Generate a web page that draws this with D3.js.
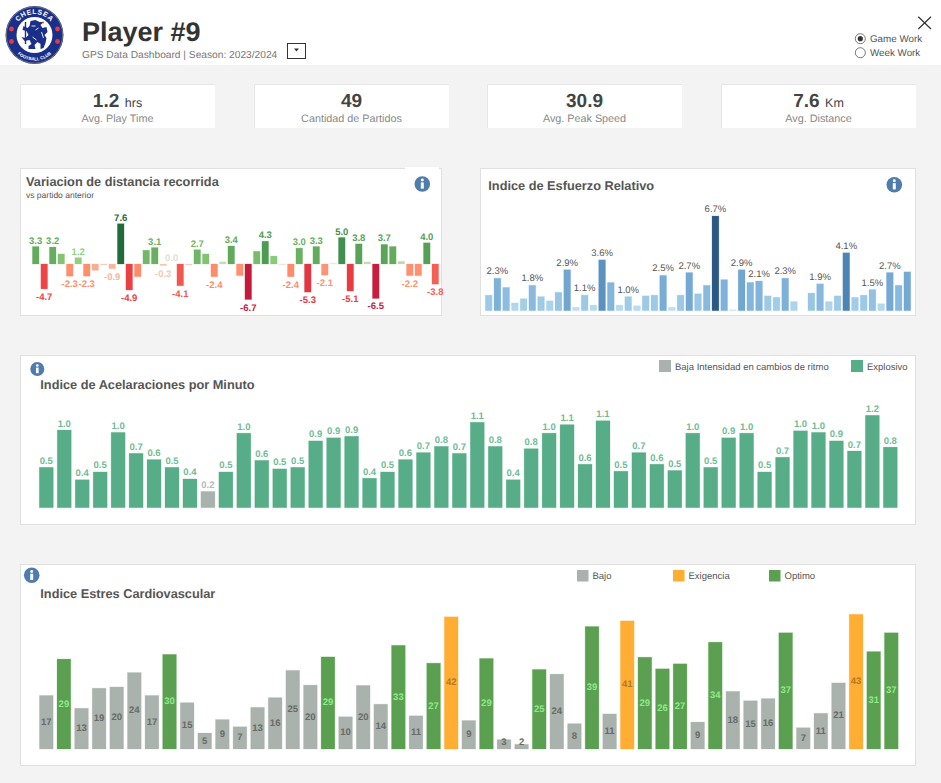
<!DOCTYPE html>
<html>
<head>
<meta charset="utf-8">
<title>Player #9</title>
<script src="https://cdn.jsdelivr.net/npm/d3@7"></script>
<style>
html, body { margin: 0; padding: 0; background: #fff; overflow: hidden; }
text { font-family: "Liberation Sans", Arial, sans-serif; text-rendering: geometricPrecision; }
</style>
</head>
<body>
<div id="chart-area"></div>
<script>
// Tarjetas KPI
const kpiValues = ["1.2", "49", "30.9", "7.6"]
const kpiUnits = ["hrs", "", "", "Km"]
const kpiLabels = ["Avg. Play Time", "Cantidad de Partidos", "Avg. Peak Speed", "Avg. Distance"]

// Variacion de distancia recorrida
const variacion = [3.3, -4.7, 3.2, 1.9, -2.3, 1.2, -2.3, -1.2, -0.2, -0.9, 7.6, -4.9, -2.4, 2.6, 3.1, -0.3,
	0.0, -4.1, -0.2, 2.7, 1.9, -2.4, 0.4, 3.4, -2.2, -6.7, 2.4, 4.3, 1.5, -0.1, -2.4, 3.0,
	-5.3, 3.3, -2.1, 0.1, 5.0, -5.1, 3.8, 0.4, -6.5, 3.7, 3.3, 0.5, -2.2, -2.2, 4.0, -3.8]
const variacionConEtiqueta = [0, 1, 2, 4, 5, 6, 9, 10, 11, 14, 15, 16, 17, 19, 21, 23, 25, 27, 30, 31, 32, 33, 34, 36, 37, 38, 40, 41, 44, 46, 47]

// Indice de esfuerzo relativo (null = partido sin dato)
const esfuerzo = [1.1, 2.3, 1.65, 0.55, 0.85, 1.8, 1.0, 0.7, 1.3, 2.9, 0.25, 1.1, 0.4, 3.6, 2.0, 0.4, 1.0,
	0.35, 1.05, 1.1, 2.5, 0.25, 1.1, 2.7, 1.2, 1.8, 6.7, 2.2, 0.07, 2.9, 2.0, 2.1, 1.05, 0.95, 2.3, 0.65,
	null, 1.25, 1.9, 0.65, 1.05, 4.1, 0.95, 1.1, 1.5, 0.5, 2.7, 1.8, 2.75]
const esfuerzoConEtiqueta = [1, 5, 9, 11, 13, 16, 20, 23, 26, 29, 31, 34, 38, 41, 44, 46]

// Indice de aceleraciones por minuto
const aceleraciones = [0.52, 1.0, 0.36, 0.46, 0.97, 0.70, 0.62, 0.52, 0.37, 0.21, 0.46, 0.96, 0.61, 0.50, 0.52, 0.86,
	0.90, 0.92, 0.38, 0.46, 0.62, 0.71, 0.79, 0.70, 1.10, 0.79, 0.36, 0.76, 0.96, 1.07, 0.56, 1.12,
	0.47, 0.71, 0.56, 0.48, 0.96, 0.52, 0.90, 0.96, 0.46, 0.65, 0.99, 0.97, 0.86, 0.73, 1.19, 0.78]
const aceleracionesLegend = ["Baja Intensidad en cambios de ritmo", "Explosivo"]

// Indice estres cardiovascular
const estres = [17.1, 28.7, 13.0, 19.4, 19.8, 24.4, 17.1, 30.2, 14.8, 5.1, 9.4, 7.1, 13.3, 16.4, 25.1, 20.4, 29.4,
	10.3, 20.3, 14.3, 33.1, 10.6, 27.4, 42.2, 9.1, 28.9, 3.0, 1.5, 25.4, 23.9, 8.1, 39.1, 11.2, 40.9,
	29.3, 25.6, 27.2, 8.6, 34.1, 18.4, 15.4, 16.1, 37.1, 6.8, 11.4, 21.1, 43.0, 31.1, 37.1]
const estresCategoria = ["Bajo", "Optimo", "Bajo", "Bajo", "Bajo", "Bajo", "Bajo", "Optimo", "Bajo", "Bajo", "Bajo", "Bajo",
	"Bajo", "Bajo", "Bajo", "Bajo", "Optimo", "Bajo", "Bajo", "Bajo", "Optimo", "Bajo", "Optimo", "Exigencia", "Bajo",
	"Optimo", "Bajo", "Bajo", "Optimo", "Bajo", "Bajo", "Optimo", "Bajo", "Exigencia", "Optimo", "Optimo", "Optimo",
	"Bajo", "Optimo", "Bajo", "Bajo", "Bajo", "Optimo", "Bajo", "Bajo", "Bajo", "Exigencia", "Optimo", "Optimo"]
const estresLegend = ["Bajo", "Exigencia", "Optimo"]

const GRAY = "#a9b2ac"
const TEAL = "#57ad87"
const TEXT = "#555"

const svg = d3.select("#chart-area").append("svg")
	.attr("width", 941)
	.attr("height", 783)
	.style("display", "block")

// Fondo
svg.append("rect").attr("x", 0).attr("y", 65).attr("width", 941).attr("height", 718).attr("fill", "#f3f3f3")

// Encabezado
drawLogo(svg.append("g").attr("transform", "translate(34.5, 35)"))

svg.append("text")
	.attr("x", 82).attr("y", 41)
	.attr("font-size", 27).attr("font-weight", "bold").attr("fill", "#333")
	.text("Player #9")
svg.append("text")
	.attr("x", 82).attr("y", 57.5)
	.attr("font-size", 10.2).attr("fill", "#777")
	.text("GPS Data Dashboard | Season: 2023/2024")

// Desplegable
svg.append("rect").attr("x", 287.5).attr("y", 43.5).attr("width", 18).attr("height", 15)
	.attr("fill", "#fff").attr("stroke", "#333")
svg.append("path").attr("d", "M294 48.5h5l-2.5 3z").attr("fill", "#333")

// Cerrar
svg.append("path").attr("d", "M918.3 16.7L931 29M931 16.7L918.3 29")
	.attr("stroke", "#333").attr("stroke-width", 1.2).attr("fill", "none")

// Radios
const radios = [["Game Work", 38.7, true], ["Week Work", 52.7, false]]
radios.forEach(r => {
	svg.append("circle").attr("cx", 860.3).attr("cy", r[1]).attr("r", 5)
		.attr("fill", "#fff").attr("stroke", "#555").attr("stroke-width", 0.8)
	if (r[2]) svg.append("circle").attr("cx", 860.3).attr("cy", r[1]).attr("r", 2.6).attr("fill", "#333")
	svg.append("text").attr("x", 870).attr("y", r[1] + 3.4)
		.attr("font-size", 9.8).attr("fill", TEXT).text(r[0])
})

// KPI
const kpiX = [20, 254, 487, 721]
kpiValues.forEach((v, i) => {
	const g = svg.append("g").attr("transform", `translate(${kpiX[i]}, 84)`)
	g.append("rect").attr("width", 195).attr("height", 44).attr("fill", "#fff")
	g.append("path").attr("d", "M0.5 44V0.5H195").attr("fill", "none").attr("stroke", "#e6e6e6")
	const t = g.append("text").attr("x", 97.5).attr("y", 23).attr("text-anchor", "middle").attr("fill", "#444")
	t.append("tspan").attr("font-size", 19).attr("font-weight", "bold").text(v)
	if (kpiUnits[i]) t.append("tspan").attr("font-size", 12.5).attr("dx", 5.5).text(kpiUnits[i])
	g.append("text").attr("x", 97.5).attr("y", 37.5).attr("text-anchor", "middle")
		.attr("font-size", 10.8).attr("fill", "#888").text(kpiLabels[i])
})

// Paneles
function panel(x, y, w, h) {
	svg.append("rect").attr("x", x + 0.5).attr("y", y + 0.5).attr("width", w).attr("height", h)
		.attr("fill", "#fff").attr("stroke", "#e0e0e0")
}
function title(x, y, txt) {
	svg.append("text").attr("x", x).attr("y", y)
		.attr("font-size", 12.75).attr("font-weight", "bold").attr("fill", TEXT).text(txt)
}
function info(cx, cy, r) {
	const g = svg.append("g").attr("transform", `translate(${cx}, ${cy})`)
	g.append("circle").attr("r", r).attr("fill", "#4f7cac")
	g.append("circle").attr("cy", -r * 0.5).attr("r", r * 0.19).attr("fill", "#fff")
	g.append("rect").attr("x", -r * 0.19).attr("y", -r * 0.2).attr("width", r * 0.38).attr("height", r * 0.8).attr("fill", "#fff")
}
// Escala de posicion: una banda por partido, centrada entre el primer y el ultimo centro
function xBand(n, first, last) {
	const step = (last - first) / (n - 1)
	return d3.scaleBand()
		.domain(d3.range(n))
		.range([first - step / 2, last + step / 2])
		.paddingInner(0.22)
		.paddingOuter(0.11)
}
function barStyle(sel, color) {
	sel.attr("fill", color)
		.attr("stroke", color)
		.attr("stroke-opacity", 0.25)
		.attr("stroke-width", 1)
}
const hyphen = s => s.replace("\u2212", "-")

// Variacion de distancia recorrida
panel(20, 168, 421, 147)
svg.append("rect").attr("x", 405).attr("y", 167).attr("width", 34).attr("height", 3).attr("fill", "#fff")
title(26, 186, "Variacion de distancia recorrida")
svg.append("text").attr("x", 26).attr("y", 197.5).attr("font-size", 8.5).attr("fill", TEXT).text("vs partido anterior")
info(422.3, 184, 7.8)

const x1 = xBand(variacion.length, 35.7, 435.3)
const y1 = d3.scaleLinear().domain([-7, 8]).range([301.1, 221.6])
const color1 = d3.scaleLinear()
	.domain([-6.7, -4.7, -2.3, -0.3, 0, 1.2, 3.3, 5, 7.6])
	.range(["#c41a3c", "#ee4444", "#ff8e6c", "#f4c9b4", "#dfe0d5", "#93cf7f", "#63ac5c", "#3f8f4f", "#246b3c"])

barStyle(svg.append("g").selectAll("rect").data(variacion).enter().append("rect")
	.attr("x", (d, i) => x1(i))
	.attr("y", d => y1(Math.max(d, 0)))
	.attr("width", x1.bandwidth())
	.attr("height", d => Math.abs(y1(d) - y1(0))), d => color1(d))

svg.append("g").selectAll("text").data(variacionConEtiqueta).enter().append("text")
	.attr("x", i => x1(i) + x1.bandwidth() / 2)
	.attr("y", i => variacion[i] < 0 ? y1(variacion[i]) + 11 : y1(variacion[i]) - 3)
	.attr("text-anchor", "middle")
	.attr("font-size", 9.5).attr("font-weight", "bold")
	.attr("fill", i => color1(variacion[i]))
	.text(i => hyphen(d3.format(".1f")(variacion[i])))

// Indice de esfuerzo relativo
panel(480, 168, 435, 147)
title(488.3, 190, "Indice de Esfuerzo Relativo")
info(894.3, 184.7, 7.8)

const x2 = xBand(esfuerzo.length, 488.7, 907.3)
const y2 = d3.scaleLinear().domain([0, 7]).range([310.7, 211.8])
const color2 = d3.scaleLinear().domain([0, 1, 2, 3, 4, 6.7])
	.range(["#c9e4f5", "#9fcbe7", "#84b6dc", "#6fa4cf", "#4f86b5", "#2a5783"])

barStyle(svg.append("g").selectAll("rect").data(esfuerzo).enter().append("rect")
	.attr("display", d => d === null ? "none" : null)
	.attr("x", (d, i) => x2(i))
	.attr("y", d => y2(d))
	.attr("width", x2.bandwidth())
	.attr("height", d => y2(0) - y2(d)), d => color2(d))

svg.append("g").selectAll("text").data(esfuerzoConEtiqueta).enter().append("text")
	.attr("x", i => x2(i) + x2.bandwidth() / 2)
	.attr("y", i => y2(esfuerzo[i]) - 4)
	.attr("text-anchor", "middle")
	.attr("font-size", 9.5).attr("fill", "#555")
	.text(i => d3.format(".1f")(esfuerzo[i]) + "%")

// Indice de aceleraciones por minuto
panel(20, 355, 895, 169)
title(40.3, 388.7, "Indice de Acelaraciones por Minuto")
info(37.3, 369, 7)

const legendSwatch = (x, y, s, color, txt) => {
	svg.append("rect").attr("x", x).attr("y", y).attr("width", s).attr("height", s).attr("fill", color)
	svg.append("text").attr("x", x + s + 4).attr("y", y + s - 2.4)
		.attr("font-size", 9.5).attr("fill", TEXT).text(txt)
}
legendSwatch(659, 360, 12, GRAY, aceleracionesLegend[0])
legendSwatch(851, 360, 12, TEAL, aceleracionesLegend[1])

const x3 = xBand(aceleraciones.length, 46.3, 890.3)
const y3 = d3.scaleLinear().domain([0, 1.2]).range([507.7, 414.5])
const color3 = d => d < 0.3 ? GRAY : TEAL

barStyle(svg.append("g").selectAll("rect").data(aceleraciones).enter().append("rect")
	.attr("x", (d, i) => x3(i))
	.attr("y", d => y3(d))
	.attr("width", x3.bandwidth())
	.attr("height", d => y3(0) - y3(d)), color3)

svg.append("g").selectAll("text").data(aceleraciones).enter().append("text")
	.attr("x", (d, i) => x3(i) + x3.bandwidth() / 2)
	.attr("y", d => y3(d) - 3.5)
	.attr("text-anchor", "middle")
	.attr("font-size", 9.5).attr("font-weight", "bold")
	.attr("fill", d => d < 0.3 ? "#b5bbb7" : "#6fbb97")
	.text(d => d3.format(".1f")(d))

// Indice estres cardiovascular
panel(20, 564, 895, 201)
title(40.3, 597.7, "Indice Estres Cardiovascular")
info(31.7, 575.3, 7.8)

const color4 = d3.scaleOrdinal().domain(estresLegend).range([GRAY, "#ffad33", "#5aa050"])
const labelColor4 = d3.scaleOrdinal().domain(estresLegend).range(["#666b68", "#b9781e", "#8eea8a"])
legendSwatch(577, 570, 11.5, color4("Bajo"), estresLegend[0])
legendSwatch(673, 570, 11.5, color4("Exigencia"), estresLegend[1])
legendSwatch(769, 570, 11.5, color4("Optimo"), estresLegend[2])

const x4 = xBand(estres.length, 46.3, 891.3)
const y4 = d3.scaleLinear().domain([0, 43]).range([749, 614.3])

barStyle(svg.append("g").selectAll("rect").data(estres).enter().append("rect")
	.attr("x", (d, i) => x4(i))
	.attr("y", d => y4(d))
	.attr("width", x4.bandwidth())
	.attr("height", d => y4(0) - y4(d)), (d, i) => color4(estresCategoria[i]))

svg.append("g").selectAll("text").data(estres).enter().append("text")
	.attr("x", (d, i) => x4(i) + x4.bandwidth() / 2)
	.attr("y", d => Math.min((y4(d) + y4(0)) / 2 + 2.5, 745.4))
	.attr("text-anchor", "middle")
	.attr("font-size", 9.5).attr("font-weight", "bold")
	.attr("fill", (d, i) => labelColor4(estresCategoria[i]))
	.text(d => d3.format(".0f")(d))

// Escudo
function drawLogo(g) {
	const blue = "#1a2f8a"
	g.append("circle").attr("r", 29).attr("fill", blue)
	g.append("circle").attr("r", 28.2).attr("fill", "none").attr("stroke", "#c9b56a").attr("stroke-width", 0.5)
	g.append("circle").attr("r", 18).attr("fill", "#fff")
	g.append("path").attr("id", "logoTop").attr("d", "M-21 0A21 21 0 0 1 21 0").attr("fill", "none")
	g.append("path").attr("id", "logoBottom").attr("d", "M-25.5 0A25.5 25.5 0 0 0 25.5 0").attr("fill", "none")
	g.append("text").attr("font-size", 7).attr("font-weight", "bold").attr("fill", "#fff").attr("letter-spacing", 0.6)
		.append("textPath").attr("href", "#logoTop").attr("startOffset", "50%").attr("text-anchor", "middle").text("CHELSEA")
	g.append("text").attr("font-size", 4.4).attr("font-weight", "bold").attr("fill", "#fff")
		.append("textPath").attr("href", "#logoBottom").attr("startOffset", "50%").attr("text-anchor", "middle").text("FOOTBALL CLUB")
	const rosettes = [[-23, -6], [23, -6], [-23, 6.5], [23, 6.5]]
	g.selectAll(".rosette").data(rosettes).enter().append("circle")
		.attr("cx", d => d[0]).attr("cy", d => d[1]).attr("r", 2.4).attr("fill", "#e03a4a")
	// Leon
	g.append("path")
		.attr("d", "M-4 -14L1 -15L5 -13L9 -13L6 -10L8 -7L12 -8L13 -3L10 0L12 3L11 8L9 13L6 14L6 9L3 7L0 10L1 14L-6 14L-6 11L-3 9L-5 5L-10 6L-13 2L-9 3L-6 0L-8 -4L-12 -5L-11 -9L-7 -7L-5 -9Z")
		.attr("fill", blue)
	g.append("path").attr("d", "M-9 -13V9").attr("stroke", blue).attr("stroke-width", 1.4)
	g.append("path").attr("d", "M1 -5L4 -7M7 -3L9 3M-2 2L2 5M-3 -9L1 -9").attr("stroke", "#fff").attr("stroke-width", 0.9).attr("fill", "none")
	g.append("circle").attr("cx", 8.5).attr("cy", -12.5).attr("r", 0.9).attr("fill", "#e03a4a")
}
</script>
</body>
</html>
